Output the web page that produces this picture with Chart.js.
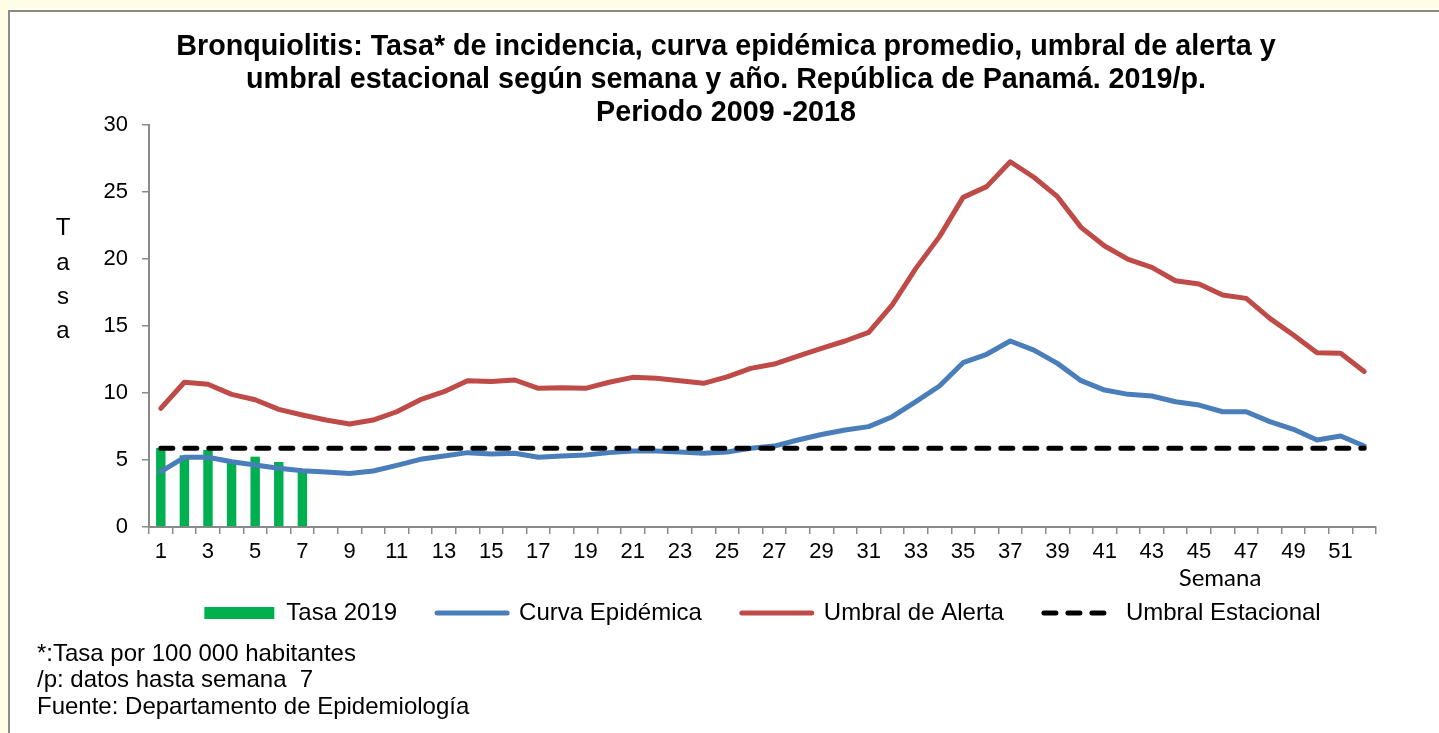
<!DOCTYPE html>
<html><head><meta charset="utf-8">
<script src="https://cdn.jsdelivr.net/npm/chart.js@4.4.1/dist/chart.umd.min.js"></script>
<style>html,body{margin:0;padding:0;background:#FEFEE6;overflow:hidden}canvas{display:block}</style>
</head><body>
<div style="position:relative;width:1439px;height:733px"><canvas id="c" width="1439" height="733"></canvas></div>
<script>
const semanas = ['1','2','3','4','5','6','7','8','9','10','11','12','13','14','15','16','17','18','19','20','21','22','23','24','25','26','27','28','29','30','31','32','33','34','35','36','37','38','39','40','41','42','43','44','45','46','47','48','49','50','51','52'];
const tasa2019 = [5.9, 5.35, 5.75, 4.8, 5.25, 4.85, 4.25];
const curvaEpidemica = [4.13, 5.2, 5.2, 4.87, 4.63, 4.38, 4.2, 4.1, 4.0, 4.18, 4.6, 5.05, 5.3, 5.55, 5.45, 5.5, 5.2, 5.3, 5.37, 5.55, 5.67, 5.67, 5.6, 5.5, 5.6, 5.87, 6.04, 6.49, 6.9, 7.24, 7.49, 8.23, 9.35, 10.52, 12.26, 12.89, 13.88, 13.2, 12.21, 10.92, 10.22, 9.9, 9.78, 9.35, 9.1, 8.6, 8.6, 7.86, 7.29, 6.49, 6.79, 6.04];
const umbralAlerta = [8.85, 10.8, 10.65, 9.9, 9.5, 8.78, 8.36, 7.98, 7.69, 7.98, 8.6, 9.5, 10.1, 10.92, 10.85, 10.97, 10.35, 10.4, 10.35, 10.8, 11.17, 11.1, 10.92, 10.72, 11.2, 11.84, 12.16, 12.76, 13.33, 13.88, 14.53, 16.57, 19.3, 21.67, 24.6, 25.4, 27.26, 26.1, 24.65, 22.36, 20.97, 19.97, 19.38, 18.38, 18.13, 17.31, 17.06, 15.57, 14.33, 13.0, 12.96, 11.6];
const umbralEstacional = [5.88, 5.88, 5.88, 5.88, 5.88, 5.88, 5.88, 5.88, 5.88, 5.88, 5.88, 5.88, 5.88, 5.88, 5.88, 5.88, 5.88, 5.88, 5.88, 5.88, 5.88, 5.88, 5.88, 5.88, 5.88, 5.88, 5.88, 5.88, 5.88, 5.88, 5.88, 5.88, 5.88, 5.88, 5.88, 5.88, 5.88, 5.88, 5.88, 5.88, 5.88, 5.88, 5.88, 5.88, 5.88, 5.88, 5.88, 5.88, 5.88, 5.88, 5.88, 5.88];
const titulo = ['Bronquiolitis: Tasa* de incidencia, curva epidémica promedio, umbral de alerta y', 'umbral estacional según semana y año. República de Panamá. 2019/p.', 'Periodo 2009 -2018'];
const notas = ['*:Tasa por 100 000 habitantes', '/p: datos hasta semana  7', 'Fuente: Departamento de Epidemiología'];
const ejeY = ['T', 'a', 's', 'a'];
const ejeX = 'Semana';

const F = '"Liberation Sans", Arial, sans-serif';

const decor = {
  id: 'decor',
  beforeDraw(chart) {
    const ctx = chart.ctx;
    ctx.save();
    ctx.fillStyle = '#FEFEE6';
    ctx.fillRect(0, 0, chart.width, chart.height);
    ctx.fillStyle = '#FFFFFF';
    ctx.fillRect(8, 10, chart.width - 8, chart.height - 10);
    ctx.strokeStyle = '#8A8A8A';
    ctx.lineWidth = 2;
    ctx.beginPath();
    ctx.moveTo(9, chart.height);
    ctx.lineTo(9, 11);
    ctx.lineTo(chart.width, 11);
    ctx.stroke();
    ctx.restore();
  },
  afterDraw(chart) {
    const ctx = chart.ctx;
    ctx.save();
    ctx.fillStyle = '#000';
    ctx.textBaseline = 'middle';
    ctx.textAlign = 'center';
    ctx.font = 'bold 28.7px ' + F;
    const ty = [47, 80, 113];
    titulo.forEach((t, i) => ctx.fillText(t, 726, ty[i]));
    ctx.font = '24px ' + F;
    const ly = [228, 263, 297, 331];
    ejeY.forEach((t, i) => ctx.fillText(t, 63, ly[i]));
    ctx.font = '24px Lato, "Open Sans", sans-serif';
    ctx.fillText(ejeX, 1220, 578);
    ctx.textAlign = 'left';
    ctx.font = '24px ' + F;
    const ny = [654, 680, 707];
    notas.forEach((t, i) => ctx.fillText(t, 37, ny[i]));
    ctx.restore();
  }
};

new Chart(document.getElementById('c'), {
  type: 'bar',
  data: {
    labels: semanas,
    datasets: [
      { type: 'bar', label: 'Tasa 2019', data: tasa2019, backgroundColor: '#00B050', borderWidth: 0,
        barPercentage: 0.4, categoryPercentage: 1, order: 4 },
      { type: 'line', label: 'Curva Epidémica', data: curvaEpidemica, borderColor: '#4A7EBB', backgroundColor: '#4A7EBB',
        borderWidth: 5, pointRadius: 0, tension: 0, borderCapStyle: 'round', borderJoinStyle: 'round', order: 2 },
      { type: 'line', label: 'Umbral de Alerta', data: umbralAlerta, borderColor: '#BE4B48', backgroundColor: '#BE4B48',
        borderWidth: 5, pointRadius: 0, tension: 0, borderCapStyle: 'round', borderJoinStyle: 'round', order: 3 },
      { type: 'line', label: 'Umbral Estacional', data: umbralEstacional, borderColor: '#000000', backgroundColor: '#000000',
        borderWidth: 5, pointRadius: 0, tension: 0, borderDash: [12, 12], borderCapStyle: 'round', order: 1 }
    ]
  },
  options: {
    responsive: false,
    animation: false,
    layout: { padding: { left: 89, right: 63, top: 125, bottom: 98 } },
    plugins: {
      title: { display: false },
      tooltip: { enabled: false },
      legend: {
        position: 'bottom',
        align: 'center',
        fullSize: false,
        labels: {
          font: { family: F, size: 24 },
          color: '#000',
          usePointStyle: true,
          pointStyleWidth: 70,
          boxHeight: 12,
          padding: 40,
          sort: (a, b) => a.datasetIndex - b.datasetIndex,
          generateLabels(chart) {
            const items = Chart.defaults.plugins.legend.labels.generateLabels(chart);
            items.forEach(it => {
              const ds = chart.data.datasets[it.datasetIndex];
              const isBar = ds.type === 'bar';
              it.pointStyle = isBar ? 'rect' : 'line';
              it.lineWidth = isBar ? 0 : ds.borderWidth;
              it.strokeStyle = ds.borderColor || ds.backgroundColor;
              it.fillStyle = ds.backgroundColor;
              it.lineDash = ds.borderDash || [];
              it.lineCap = isBar ? 'butt' : 'round';
            });
            return items;
          }
        }
      }
    },
    scales: {
      x: {
        offset: true,
        afterFit: s => { s.height = 34; },
        grid: { offset: true, drawOnChartArea: false, drawTicks: true, tickLength: 7, color: '#8A8A8A', lineWidth: 1.5 },
        border: { display: true, color: '#8A8A8A', width: 2 },
        ticks: {
          autoSkip: false, maxRotation: 0, minRotation: 0, padding: 5,
          color: '#000', font: { family: F, size: 22 },
          callback: function (v, i) { return i % 2 === 0 ? this.getLabelForValue(v) : ''; }
        }
      },
      y: {
        min: 0, max: 30,
        afterFit: s => { s.width = 60; },
        grid: { drawOnChartArea: false, drawTicks: true, tickLength: 7, color: '#8A8A8A', lineWidth: 1.5 },
        border: { display: true, color: '#8A8A8A', width: 2 },
        ticks: { stepSize: 5, padding: 14, color: '#000', font: { family: F, size: 22 } }
      }
    }
  },
  plugins: [decor]
});
</script>
</body></html>
